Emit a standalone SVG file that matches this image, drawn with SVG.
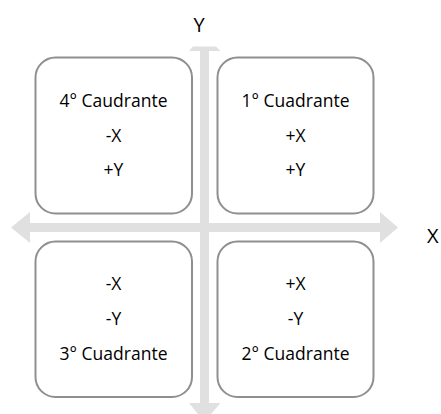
<svg xmlns="http://www.w3.org/2000/svg" width="441" height="414" viewBox="0 0 441 414">
  <style>
    .axis { fill: #e0e0e0; }
    .box { fill: #ffffff; stroke: #8f8f8f; stroke-width: 2; }
    .lbl { font-family: "Open Sans", "Liberation Sans", sans-serif; font-size: 17.5px; fill: #000000; text-anchor: middle; }
    .ax { font-family: "Open Sans", "Liberation Sans", sans-serif; font-size: 20px; fill: #000000; }
  </style>

  <!-- coordinate axes (block arrows) -->
  <g id="connectors">
    <!-- vertical axis, heads clipped at the top and bottom edges -->
    <polygon class="axis" points="193,46.5 216,46.5 220.5,51 209,51 209,403 220.5,403 211,414 198,414 189,403 200,403 200,51 189,51"/>
    <!-- horizontal axis -->
    <polygon class="axis" points="11,227.5 30,212 30,223 380,223 380,212 398,227.5 380,243 380,232 30,232 30,243"/>
  </g>

  <g id="axis-y-label"><text class="ax" x="199" y="32" text-anchor="middle">Y</text></g>
  <g id="axis-x-label"><text class="ax" x="427" y="243">X</text></g>

  <g id="q4">
    <rect class="box" x="35.5" y="57.5" width="156.5" height="156" rx="20" ry="20"/>
    <text class="lbl" x="113.5" y="107">4° Caudrante</text>
    <text class="lbl" x="113.5" y="141.5">-X</text>
    <text class="lbl" x="113.5" y="176">+Y</text>
  </g>

  <g id="q1">
    <rect class="box" x="217.5" y="57.5" width="156" height="156" rx="20" ry="20"/>
    <text class="lbl" x="295.5" y="107">1° Cuadrante</text>
    <text class="lbl" x="295.5" y="141.5">+X</text>
    <text class="lbl" x="295.5" y="176">+Y</text>
  </g>

  <g id="q3">
    <rect class="box" x="35.5" y="241.5" width="156.5" height="155.5" rx="20" ry="20"/>
    <text class="lbl" x="113.5" y="290">-X</text>
    <text class="lbl" x="113.5" y="325">-Y</text>
    <text class="lbl" x="113.5" y="360">3° Cuadrante</text>
  </g>

  <g id="q2">
    <rect class="box" x="217.5" y="241.5" width="156" height="155.5" rx="20" ry="20"/>
    <text class="lbl" x="295.5" y="290">+X</text>
    <text class="lbl" x="295.5" y="325">-Y</text>
    <text class="lbl" x="295.5" y="360">2° Cuadrante</text>
  </g>
</svg>
